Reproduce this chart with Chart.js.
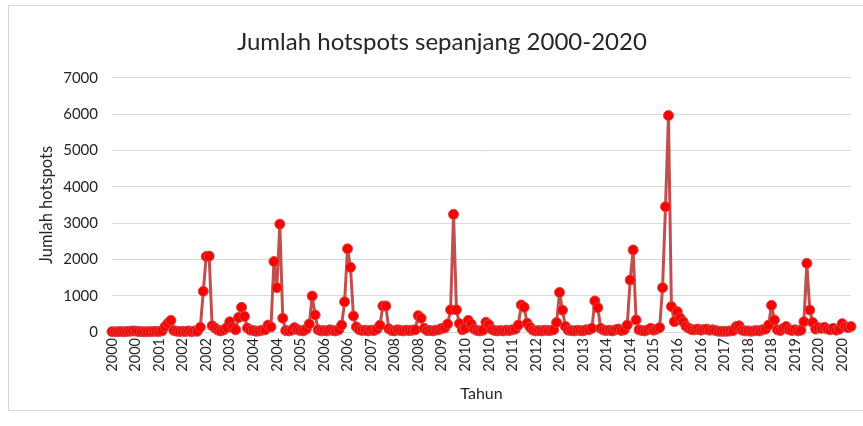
<!DOCTYPE html>
<html><head><meta charset="utf-8">
<script src="https://cdn.jsdelivr.net/npm/chart.js@4/dist/chart.umd.min.js"></script>
<style>
html,body{margin:0;padding:0;background:#fff;overflow:hidden;}
#frame{position:absolute;left:8px;top:5px;width:900px;height:404px;border:1px solid #d9d9d9;}
#wrap{position:absolute;left:0;top:0;width:863px;height:426px;}
</style></head><body>
<div id="frame"></div>
<div id="wrap"><canvas id="c" width="863" height="426"></canvas></div>
<script>
// Years covered (one category per month)
const years = [2000,2001,2002,2003,2004,2005,2006,2007,2008,2009,2010,2011,2012,2013,2014,2015,2016,2017,2018,2019,2020];
const monthsPerYear = 12;
const tickEvery = 8;
const yTicks = [0,1000,2000,3000,4000,5000,6000,7000];

// Monthly hotspot counts, Jan..Dec of each year
const h2000 = [10, 5, 8, 12, 6, 15, 20, 30, 25, 15, 10, 5];
const h2001 = [8, 10, 15, 20, 12, 30, 150, 240, 320, 40, 20, 15];
const h2002 = [20, 15, 30, 10, 25, 20, 130, 1120, 2080, 2090, 170, 110];
const h2003 = [50, 30, 60, 120, 280, 120, 60, 400, 680, 430, 110, 50];
const h2004 = [40, 20, 30, 50, 60, 190, 140, 1940, 1220, 2970, 380, 40];
const h2005 = [30, 50, 120, 60, 40, 30, 80, 220, 990, 470, 60, 30];
const h2006 = [40, 30, 60, 40, 30, 60, 190, 830, 2290, 1780, 440, 140];
const h2007 = [60, 40, 50, 30, 50, 40, 80, 185, 715, 715, 90, 40];
const h2008 = [30, 60, 40, 30, 50, 40, 50, 60, 450, 380, 100, 40];
const h2009 = [40, 30, 50, 60, 100, 110, 220, 610, 3240, 610, 230, 60];
const h2010 = [100, 320, 220, 80, 40, 30, 50, 270, 200, 70, 40, 30];
const h2011 = [40, 30, 50, 40, 60, 80, 190, 745, 680, 240, 130, 50];
const h2012 = [30, 40, 30, 50, 40, 40, 60, 260, 1090, 600, 150, 50];
const h2013 = [40, 30, 50, 40, 30, 60, 60, 100, 855, 670, 100, 50];
const h2014 = [40, 50, 30, 60, 80, 40, 60, 190, 1430, 2260, 330, 60];
const h2015 = [40, 30, 60, 100, 50, 80, 120, 1220, 3450, 5960, 700, 285];
const h2016 = [560, 380, 280, 150, 100, 60, 60, 80, 50, 70, 80, 50];
const h2017 = [60, 40, 20, 20, 20, 20, 30, 40, 150, 170, 50, 30];
const h2018 = [30, 20, 30, 40, 30, 60, 80, 190, 735, 330, 60, 40];
const h2019 = [100, 150, 60, 40, 60, 30, 50, 285, 1890, 605, 260, 80];
const h2020 = [120, 100, 130, 80, 60, 100, 50, 80, 230, 150, 120, 150];

const yearly = [h2000,h2001,h2002,h2003,h2004,h2005,h2006,h2007,h2008,h2009,h2010,h2011,h2012,h2013,h2014,h2015,h2016,h2017,h2018,h2019,h2020];

const categories = [];
years.forEach(y => { for (let m = 0; m < monthsPerYear; m++) categories.push(String(y)); });
const values = [].concat(...yearly);

const txt = '#262626';
const fam = 'Lato, "Liberation Sans", sans-serif';

new Chart(document.getElementById('c'), {
  type: 'line',
  data: {
    labels: categories,
    datasets: [{
      data: values,
      borderColor: '#C0504D',
      borderWidth: 3,
      borderJoinStyle: 'round',
      borderCapStyle: 'round',
      pointRadius: 5,
      pointBorderWidth: 1,
      pointBackgroundColor: '#FF0000',
      pointBorderColor: '#D24A4A',
      tension: 0,
      fill: false,
      clip: 8
    }]
  },
  options: {
    responsive: false,
    animation: false,
    layout: { padding: { left: 33, right: 12, top: 0, bottom: 19 } },
    plugins: {
      legend: { display: false },
      tooltip: { enabled: false },
      title: {
        display: true,
        text: 'Jumlah hotspots sepanjang 2000-2020',
        color: txt,
        font: { family: fam, size: 24, weight: 'normal', lineHeight: 1.2 },
        padding: { top: 28, bottom: 21 }
      }
    },
    scales: {
      x: {
        type: 'category',
        offset: false,
        grid: { display: false, drawTicks: false },
        border: { display: true, color: '#d9d9d9', width: 1 },
        ticks: {
          autoSkip: false,
          maxRotation: 90,
          minRotation: 90,
          padding: 6,
          color: txt,
          font: { family: fam, size: 14.5 },
          callback: function(v, i) { return i % tickEvery === 0 ? categories[i] : ''; }
        },
        title: { display: true, text: 'Tahun', color: txt, font: { family: fam, size: 16 }, padding: { top: 4, bottom: 4 } },
        afterFit: s => { s.height = 75; s.paddingRight = 0; }
      },
      y: {
        min: yTicks[0],
        max: yTicks[yTicks.length - 1],
        afterBuildTicks: s => { s.ticks = yTicks.map(v => ({ value: v })); },
        grid: { color: '#d9d9d9', lineWidth: 1, drawTicks: false },
        border: { display: false },
        ticks: { padding: 14, color: txt, font: { family: fam, size: 15 }, callback: v => String(v) },
        title: { display: true, text: 'Jumlah hotspots', color: txt, font: { family: fam, size: 16.5 }, padding: { top: 4, bottom: 4 } },
        afterFit: s => { s.width = 79; }
      }
    }
  }
});
</script>
</body></html>
